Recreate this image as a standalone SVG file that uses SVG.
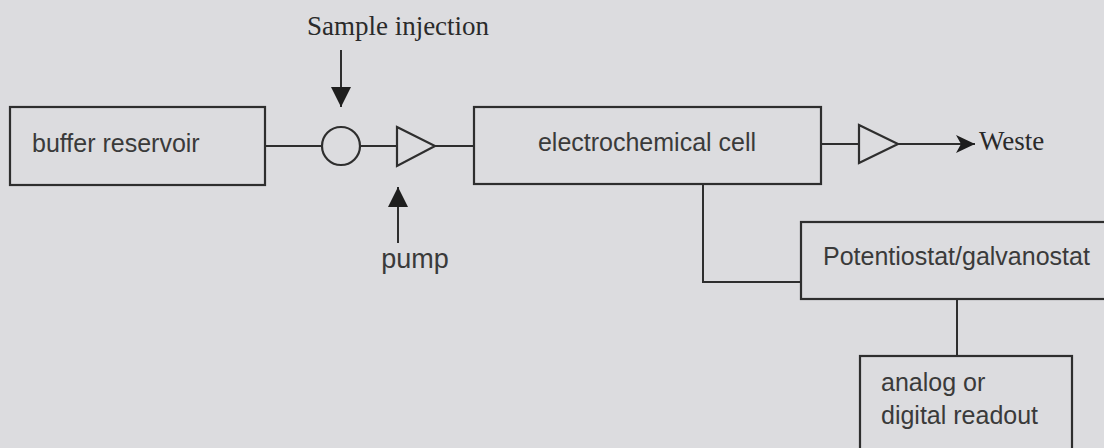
<svg xmlns="http://www.w3.org/2000/svg" width="1104" height="448" viewBox="0 0 1104 448">
<style>
.box{fill:none;stroke:#2e2e2e;stroke-width:2.2}
.ln{fill:none;stroke:#2e2e2e;stroke-width:2}
.sans{font-family:"Liberation Sans",Arial,sans-serif;font-size:25px;fill:#3a3a3a}
.serif{font-family:"Liberation Serif","Times New Roman",serif;font-size:27px;fill:#2a2a2a}
</style>
<defs>
<marker id="tri" markerWidth="20" markerHeight="20" viewBox="0 0 20 20" refX="20" refY="10" orient="auto" markerUnits="userSpaceOnUse">
<path d="M0,0 L20,10 L0,20 Z" fill="#1e1e1e"/>
</marker>
<marker id="stealth" markerWidth="20" markerHeight="20" viewBox="0 0 20 20" refX="19" refY="10" orient="auto" markerUnits="userSpaceOnUse">
<path d="M0,1 L19,10 L0,19 L5,10 Z" fill="#1e1e1e"/>
</marker>
</defs>
<rect width="1104" height="448" fill="#dcdcdf"/>
<g id="connectors">
<line class="ln" x1="265" y1="146" x2="322" y2="146"/>
<line class="ln" x1="360" y1="146" x2="397" y2="146"/>
<line class="ln" x1="435" y1="146" x2="474" y2="146"/>
<line class="ln" x1="341" y1="50" x2="341" y2="107" marker-end="url(#tri)"/>
<line class="ln" x1="398" y1="243" x2="398" y2="187" marker-end="url(#tri)"/>
<line class="ln" x1="821" y1="144" x2="859" y2="144"/>
<line class="ln" x1="898" y1="144" x2="975" y2="144" marker-end="url(#stealth)"/>
<polyline class="ln" points="703,184 703,282 801,282"/>
<line class="ln" x1="957" y1="299" x2="957" y2="356"/>
</g>
<g id="buffer-reservoir">
<rect class="box" x="10" y="107" width="255" height="78"/>
<text class="sans" x="32" y="152">buffer reservoir</text>
</g>
<g id="injection-valve">
<circle class="box" cx="341" cy="146" r="19"/>
</g>
<g id="sample-injection">
<text class="serif" x="398" y="35" text-anchor="middle">Sample injection</text>
</g>
<g id="pump">
<polygon class="box" points="397,127 435,146 397,166"/>
<text class="sans" x="415" y="268" text-anchor="middle" style="font-size:27px">pump</text>
</g>
<g id="electrochemical-cell">
<rect class="box" x="474" y="107" width="347" height="77"/>
<text class="sans" x="647" y="151" text-anchor="middle">electrochemical cell</text>
</g>
<g id="outlet-pump">
<polygon class="box" points="859,125 898,144 859,163"/>
</g>
<g id="weste">
<text class="serif" x="979" y="150">Weste</text>
</g>
<g id="potentiostat">
<rect class="box" x="801" y="222" width="320" height="77"/>
<text class="sans" x="823" y="265">Potentiostat/galvanostat</text>
</g>
<g id="readout">
<rect class="box" x="860" y="356" width="212" height="110"/>
<text class="sans" x="881" y="391">analog or</text>
<text class="sans" x="881" y="424">digital readout</text>
</g>
</svg>
